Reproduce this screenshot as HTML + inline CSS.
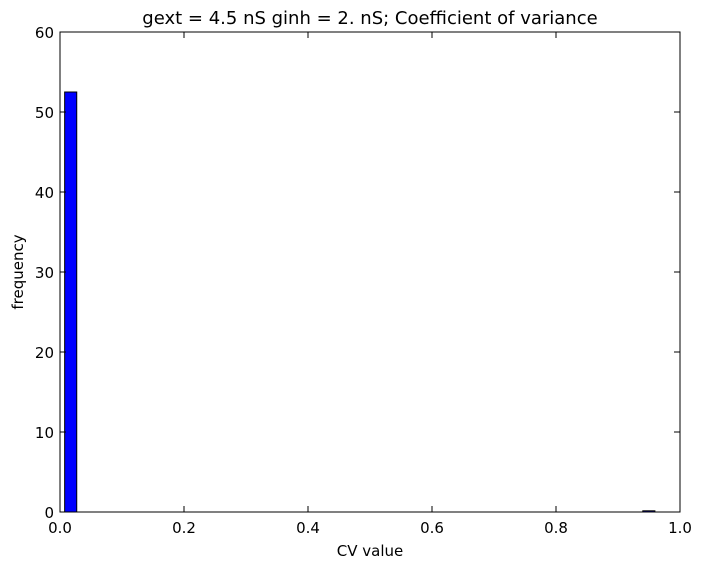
<!DOCTYPE html>
<html><head><meta charset="utf-8"><style>
body{margin:0;background:#fff;}
svg{display:block;font-family:"DejaVu Sans","Liberation Sans",sans-serif;}
</style></head><body>
<svg id="chart" width="701" height="570"></svg>
<script>
const binLefts=[0.0075,0.94];
const binWidth=0.0195;
const counts=[52.5,0.15];
const xTicks=["0.0","0.2","0.4","0.6","0.8","1.0"];
const xTickVals=[0,0.2,0.4,0.6,0.8,1.0];
const yTickVals=[0,10,20,30,40,50,60];
const L=60,R=680,T=32,B=512;
const sx=v=>L+(v-0)/(1-0)*(R-L);
const sy=v=>B-(v/60)*(B-T);
const svg=document.getElementById('chart');
const NS='http://www.w3.org/2000/svg';
function mk(t,a){const e=document.createElementNS(NS,t);for(const k in a)e.setAttribute(k,a[k]);svg.appendChild(e);return e;}
for(let i=0;i<counts.length;i++){
  const x0=sx(binLefts[i]),x1=sx(binLefts[i]+binWidth);
  const b=mk('rect',{x:x0,y:sy(counts[i]),width:x1-x0,height:B-sy(counts[i]),fill:'#0000ff',stroke:'#000','stroke-width':1});
  
  
}
const frame=mk('rect',{x:L,y:T,width:R-L,height:B-T,fill:'none',stroke:'#000','stroke-width':1});


xTickVals.forEach((v,i)=>{
  const x=sx(v);
  mk('line',{x1:x,x2:x,y1:B,y2:B-6,stroke:'#000'});
  mk('line',{x1:x,x2:x,y1:T,y2:T+6,stroke:'#000'});
  const t=mk('text',{x:x,y:B+21,'text-anchor':'middle','font-size':15});
  t.textContent=xTicks[i];
  
  
});
yTickVals.forEach(v=>{
  const y=sy(v);
  mk('line',{x1:L,x2:L+6,y1:y,y2:y,stroke:'#000'});
  mk('line',{x1:R,x2:R-6,y1:y,y2:y,stroke:'#000'});
  const t=mk('text',{x:L-6,y:y+6,'text-anchor':'end','font-size':15});
  t.textContent=v;
  
  
});
const ti=mk('text',{x:370,y:24,'text-anchor':'middle','font-size':18});
ti.textContent='gext = 4.5 nS ginh = 2. nS; Coefficient of variance';


const xl=mk('text',{x:370,y:556,'text-anchor':'middle','font-size':15});
xl.textContent='CV value';


const yl=mk('text',{x:0,y:0,'text-anchor':'middle','font-size':15,transform:'translate(23,272) rotate(-90)'});
yl.textContent='frequency';


</script>
</body></html>
